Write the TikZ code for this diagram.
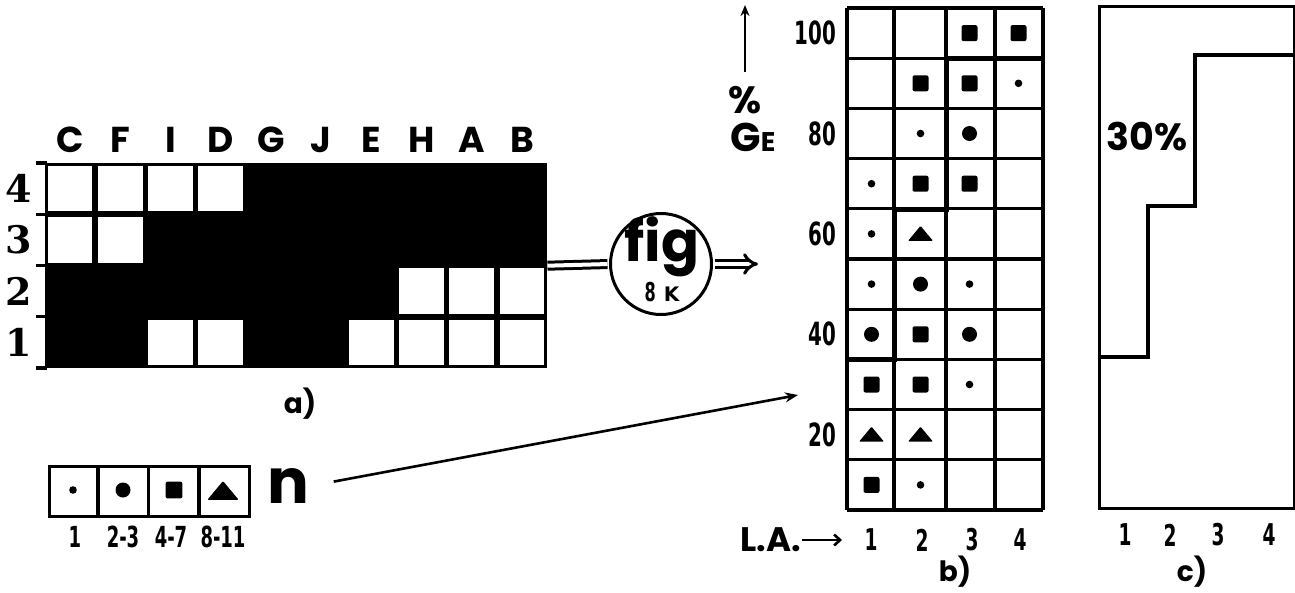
\documentclass[tikz,border=0pt]{standalone}
\usepackage{fontspec}
\usepackage{graphicx}
\usetikzlibrary{arrows.meta}
\newfontfamily\geo{Poppins}
\newfontfamily\sansnum{DejaVu Sans}
\newfontfamily\slab{DejaVu Serif}
\newcommand{\cnd}[1]{\scalebox{0.62}[1]{#1}}
\begin{document}
\begin{tikzpicture}[x=1pt,y=-1pt,
  gl/.style={line width=3.2pt},
  thickgl/.style={line width=5pt},
  geofont/.style={font=\geo\bfseries\fontsize{#1}{#1}\selectfont, inner sep=1pt},
  numfont/.style={font=\sansnum\bfseries\fontsize{#1}{#1}\selectfont, inner sep=1pt},
  rowlbl/.style={font=\slab\bfseries\fontsize{38}{38}\selectfont, inner sep=1pt},
  pics/sdot/.style={code={\fill (0,0) circle (3.8);}},
  pics/bdot/.style={code={\fill (0,0) circle (7.5);}},
  pics/sq/.style={code={\fill[rounded corners=2pt] (-8,-8) rectangle (8,8);}},
  pics/tri/.style={code={\fill[rounded corners=1pt] (-12.5,7) -- (0,-8) -- (12.5,7) -- cycle;}},
]
\fill[white] (0,0) rectangle (1295,592);
\useasboundingbox (0,0) rectangle (1295,592);

% ---------- panel a ----------
\node[fill=black, minimum width=502pt, minimum height=205pt, inner sep=0pt, anchor=north west] (gridA) at (45,163) {};
\foreach \c/\r in {0/0,1/0,2/0,3/0,0/1,1/1,7/2,8/2,9/2,2/3,3/3,6/3,7/3,8/3,9/3}
  \fill[white] ({45+50.2*\c+2.8},{163+51.25*\r+2.8}) rectangle ({45+50.2*(\c+1)-2.8},{163+51.25*(\r+1)-2.8});
\foreach \r in {0,...,4} \draw[gl] (36,{163+51.25*\r}) -- (47,{163+51.25*\r});
\foreach \t [count=\i from 0] in {4,3,2,1}
  \node[rowlbl] (row\t) at (19,{163+51.25*(\i+0.5)}) {\t};
\foreach \t [count=\i from 0] in {C,F,I,D,G,J,E,H,A,B}
  \node[geofont=36] (col\t) at ({45+50.2*(\i+0.5)},140) {\t};
\node[geofont=28] (capA) at (300,404) {a)};

% ---------- fig circle ----------
\node[draw, circle, line width=3pt, minimum size=101pt, inner sep=0pt] (fig) at (661,264) {};
\node[geofont=56] (figtxt) at (662,247) {fig};
\node[numfont=26] (figk) at (662,292) {\cnd{8}\hspace{8pt}{\fontsize{20}{20}\selectfont K}};
\draw[line width=3pt, double distance=4pt, shorten >=1.5pt] (gridA.east) -- (fig.west);
\coordinate (figout) at (758,264);
\draw[line width=3pt, double distance=4pt, shorten <=1.5pt, -{Implies[length=9pt]}] (fig.east) -- (figout);

% ---------- panel b ----------
\foreach \i in {0,...,10} \draw[gl] (847,{8+50.2*\i}) -- (1043,{8+50.2*\i});
\foreach \x in {847,894,946,995,1043} \draw[gl] (\x,8) -- (\x,510);
\draw[thickgl] (847,359) -- (894,359) -- (894,209) -- (946,209) -- (946,58) -- (1043,58);
\foreach \c/\r/\s in {3/1/sq,4/1/sq,2/2/sq,3/2/sq,4/2/sdot,2/3/sdot,3/3/bdot,1/4/sdot,2/4/sq,3/4/sq,
  1/5/sdot,2/5/tri,1/6/sdot,2/6/bdot,3/6/sdot,1/7/bdot,2/7/sq,3/7/bdot,1/8/sq,2/8/sq,3/8/sdot,
  1/9/tri,2/9/tri,1/10/sq,2/10/sdot}
  \path ({847+49*(\c-0.5)},{8+50.2*(\r-0.5)}) pic {\s};
\foreach \t [count=\i] in {100,80,60,40,20}
  \node[numfont=32, anchor=east] (yl\t) at (837,{8+50.2*(2*\i-1.5)}) {\cnd{\t}};
\coordinate (upS) at (745,72);
\coordinate (upE) at (745,5);
\draw[line width=2.6pt, -{Stealth[length=11pt,width=9pt]}] (upS) -- (upE);
\node[geofont=38] (pct) at (745,100) {\%};
\node[geofont=40] (ge) at (753,137) {G{\fontsize{27}{27}\selectfont E}};
\node[geofont=34, anchor=east] (la) at (802,540) {L.A.};
\coordinate (laE) at (842,540);
\draw[line width=2.6pt, -{Straight Barb[length=6pt,width=11pt]}] (la.east) -- (laE);
\foreach \t/\x in {1/871,2/922,3/972,4/1020}
  \node[numfont=30] (bx\t) at (\x,540) {\cnd{\t}};
\node[geofont=28] (capB) at (955,572) {b)};

% ---------- panel c ----------
\node[draw, gl, minimum width=195pt, minimum height=502pt, anchor=north west, inner sep=0pt] (boxC) at (1098,5) {};
\draw[gl] (1098,357) -- (1148,357) -- (1148,206) -- (1195,206) -- (1195,55) -- (1293,55);
\node[geofont=38] (thirty) at (1147,137) {30\%};
\foreach \t/\x in {1/1125,2/1170,3/1218,4/1269}
  \node[numfont=30] (cx\t) at (\x,535) {\cnd{\t}};
\node[geofont=28] (capC) at (1192,572) {c)};

% ---------- legend ----------
\node[draw, gl, minimum width=200pt, minimum height=50pt, anchor=north west, inner sep=0pt] (legend) at (48,465) {};
\foreach \x in {98,148.5,199} \draw[gl] (\x,465) -- (\x,515);
\path (73,490) pic {sdot};
\path (123,490) pic {bdot};
\path (174,490) pic[scale=1.05] {sq};
\path (223,491) pic[scale=1.25] {tri};
\foreach \t/\x in {1/75,2-3/123,4-7/171,8-11/223}
  \node[numfont=29] (lg\t) at (\x,537) {\cnd{\t}};
\node[geofont=62] (n) at (288,486) {n};
\coordinate (nT) at (798,395);
\draw[line width=2.6pt, shorten <=24pt, -{Stealth[length=13pt,width=10pt]}] (n.east) -- (nT);
\end{tikzpicture}
\end{document}
